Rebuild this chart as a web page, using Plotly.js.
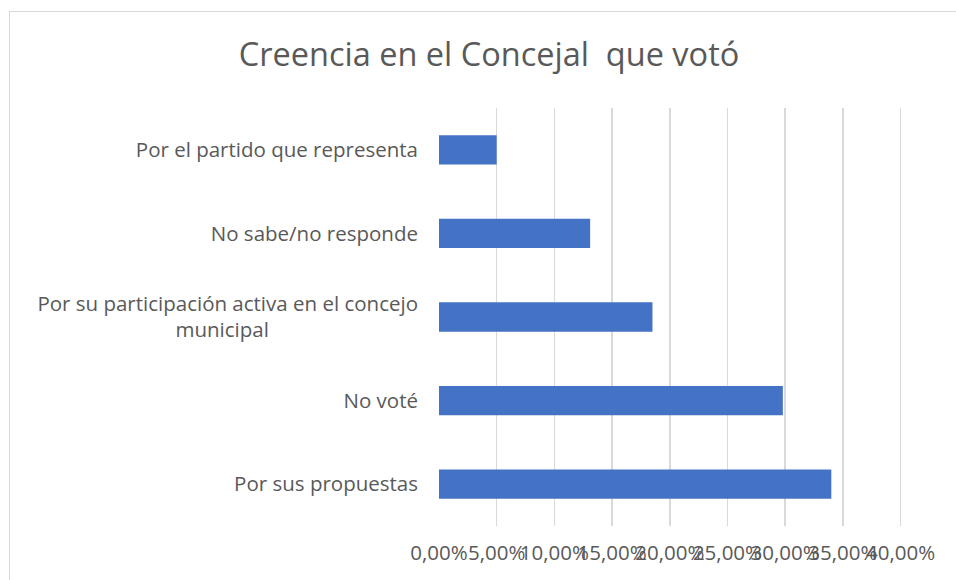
<!DOCTYPE html>
<html>
<head>
<meta charset="utf-8">
<script src="https://cdn.plot.ly/plotly-3.0.1.min.js"></script>
<style>
  html, body { margin: 0; padding: 0; background: #ffffff; overflow: hidden; }
  #frame { position: absolute; left: 9px; top: 11px; width: 1000px; height: 1000px; border: 1.5px solid #d9d9d9; box-sizing: border-box; }
  #chart { position: absolute; left: 0; top: 0; width: 956px; height: 580px; }
</style>
</head>
<body>
<div id="frame"></div>
<div id="chart"></div>
<script>
const NB = '\u00a0';
const categories = [
  'Por el partido que representa',
  'No sabe/no responde',
  'Por su participación activa en el concejo<br>municipal' + NB.repeat(28),
  'No voté',
  'Por sus propuestas'
];
const values = [0.050, 0.131, 0.185, 0.298, 0.340];
const xTicks = [0, 0.05, 0.10, 0.15, 0.20, 0.25, 0.30, 0.35, 0.40];

const FONT = '"Open Sans", Lato, sans-serif';
const XMAX = 0.403;

const trace = {
  type: 'bar',
  orientation: 'h',
  x: values,
  y: categories,
  marker: { color: '#4472C4', line: { width: 0 } },
  hoverinfo: 'none'
};

const plotW = 462 * XMAX / 0.40;

const layout = {
  width: 956,
  height: 580,
  margin: { l: 439, r: 956 - 439 - plotW, t: 108, b: 54 },
  paper_bgcolor: 'rgba(0,0,0,0)',
  plot_bgcolor: 'rgba(0,0,0,0)',
  separators: ',.',
  font: { family: FONT, color: '#595959', size: 20.5 },
  title: {
    text: 'Creencia en el Concejal  que votó',
    font: { size: 32.5, color: '#595959', family: FONT },
    x: 489 / 956, xanchor: 'center', xref: 'container',
    y: 1 - 55 / 580, yref: 'container', yanchor: 'middle'
  },
  bargap: 0.65,
  showlegend: false,
  xaxis: {
    range: [0, XMAX],
    tickvals: xTicks,
    tickformat: '.2%',
    tickangle: 0,
    showgrid: true,
    gridcolor: '#d9d9d9',
    gridwidth: 1.5,
    zeroline: false,
    showline: false,
    ticks: '',
    ticklabelstandoff: 12,
    tickfont: { size: 20.5, color: '#595959', family: FONT },
    fixedrange: true
  },
  yaxis: {
    type: 'category',
    autorange: 'reversed',
    showgrid: false,
    zeroline: false,
    showline: false,
    ticks: '',
    ticklabelstandoff: 20,
    tickfont: { size: 20.5, color: '#595959', family: FONT },
    fixedrange: true
  }
};

Plotly.newPlot('chart', [trace], layout, { staticPlot: true, displayModeBar: false });
</script>
</body>
</html>
